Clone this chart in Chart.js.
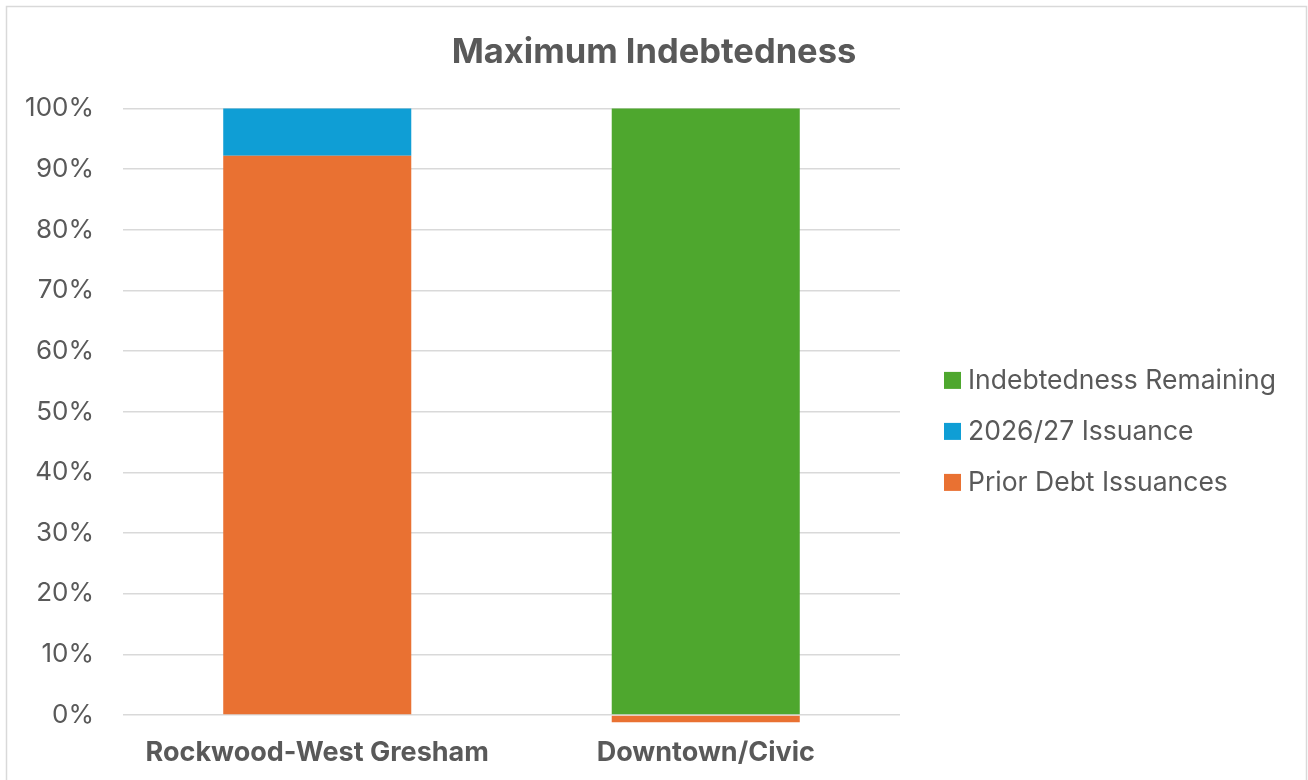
<!DOCTYPE html>
<html>
<head>
<meta charset="utf-8">
<title>Maximum Indebtedness</title>
<script src="https://cdn.jsdelivr.net/npm/chart.js@4/dist/chart.umd.min.js"></script>
<style>
  html, body { margin: 0; padding: 0; background: #ffffff; }
  #wrap { position: relative; width: 1308px; height: 780px; }
  canvas { display: block; }
</style>
</head>
<body>
<div id="wrap"><canvas id="chart" width="1308" height="780"></canvas></div>
<script>
// Urban renewal districts
const districts = ['Rockwood-West Gresham', 'Downtown/Civic'];

// Share of maximum indebtedness (percent)
const priorDebt = [92.2, -1.2];
const issuance2627 = [7.8, 0];
const remaining = [0, 100];

// Axis tick values (percent)
const yTicks = [0, 10, 20, 30, 40, 50, 60, 70, 80, 90, 100];

const FONT = 'Inter, "Liberation Sans", Arial, sans-serif';
const TEXT = '#595959';
const GRID = '#D9D9D9';

// Outer frame around the whole chart
const framePlugin = {
  id: 'frame',
  beforeDraw(chart) {
    const ctx = chart.ctx;
    ctx.save();
    ctx.fillStyle = '#ffffff';
    ctx.fillRect(0, 0, chart.width, chart.height);
    ctx.strokeStyle = GRID;
    ctx.lineWidth = 1.5;
    ctx.strokeRect(6.5, 6.5, chart.width - 8, chart.height + 10);
    ctx.restore();
  }
};

// Legend listed top-down in reverse stacking order, placed right of the plot
const sideLegend = {
  id: 'sideLegend',
  afterDraw(chart) {
    const ctx = chart.ctx;
    const area = chart.chartArea;
    const sets = chart.data.datasets.slice().reverse();
    const x0 = area.right + 44;
    const yFirst = area.top + 272;
    const step = 51;
    ctx.save();
    ctx.font = '26.5px ' + FONT;
    ctx.textBaseline = 'middle';
    ctx.textAlign = 'left';
    sets.forEach((ds, i) => {
      const cy = yFirst + i * step;
      ctx.fillStyle = ds.backgroundColor;
      ctx.fillRect(x0, cy - 8.5, 17, 17);
      ctx.fillStyle = TEXT;
      ctx.fillText(ds.label, x0 + 24, cy + 1);
    });
    ctx.restore();
  }
};

new Chart(document.getElementById('chart'), {
  type: 'bar',
  data: {
    labels: districts,
    datasets: [
      { label: 'Prior Debt Issuances', data: priorDebt, backgroundColor: '#E97132' },
      { label: '2026/27 Issuance', data: issuance2627, backgroundColor: '#0F9ED5' },
      { label: 'Indebtedness Remaining', data: remaining, backgroundColor: '#4EA72E' }
    ].map(d => Object.assign(d, {
      borderWidth: 0,
      categoryPercentage: 1,
      barPercentage: 0.484,
      clip: false
    }))
  },
  options: {
    responsive: false,
    animation: false,
    layout: { padding: { top: 7, left: 7, right: 7, bottom: 11 } },
    plugins: {
      legend: { display: false },
      tooltip: { enabled: false },
      title: {
        display: true,
        text: 'Maximum Indebtedness',
        color: TEXT,
        font: { family: FONT, size: 34.5, weight: 'bold' },
        padding: { top: 25, bottom: 35 }
      }
    },
    scales: {
      x: {
        stacked: true,
        afterFit(scale) { scale.height = 54; },
        grid: { display: false, drawTicks: false },
        border: { display: false },
        ticks: {
          color: TEXT,
          padding: 22,
          font: { family: FONT, size: 27, weight: 'bold' },
          maxRotation: 0
        }
      },
      y: {
        stacked: true,
        min: 0,
        max: 100,
        afterBuildTicks(scale) {
          scale.ticks = yTicks.map(v => ({ value: v }));
        },
        afterFit(scale) { scale.width = 116; },
        grid: { color: GRID, lineWidth: 1.5, drawTicks: false },
        border: { display: false },
        ticks: {
          color: TEXT,
          padding: 29,
          font: { family: FONT, size: 26 },
          callback: v => v + '%'
        }
      },
      legendSpace: {
        position: 'right',
        display: true,
        grid: { display: false, drawTicks: false },
        border: { display: false },
        ticks: { display: false },
        afterFit(scale) { scale.width = 401; }
      }
    }
  },
  plugins: [framePlugin, sideLegend]
});
</script>
</body>
</html>
